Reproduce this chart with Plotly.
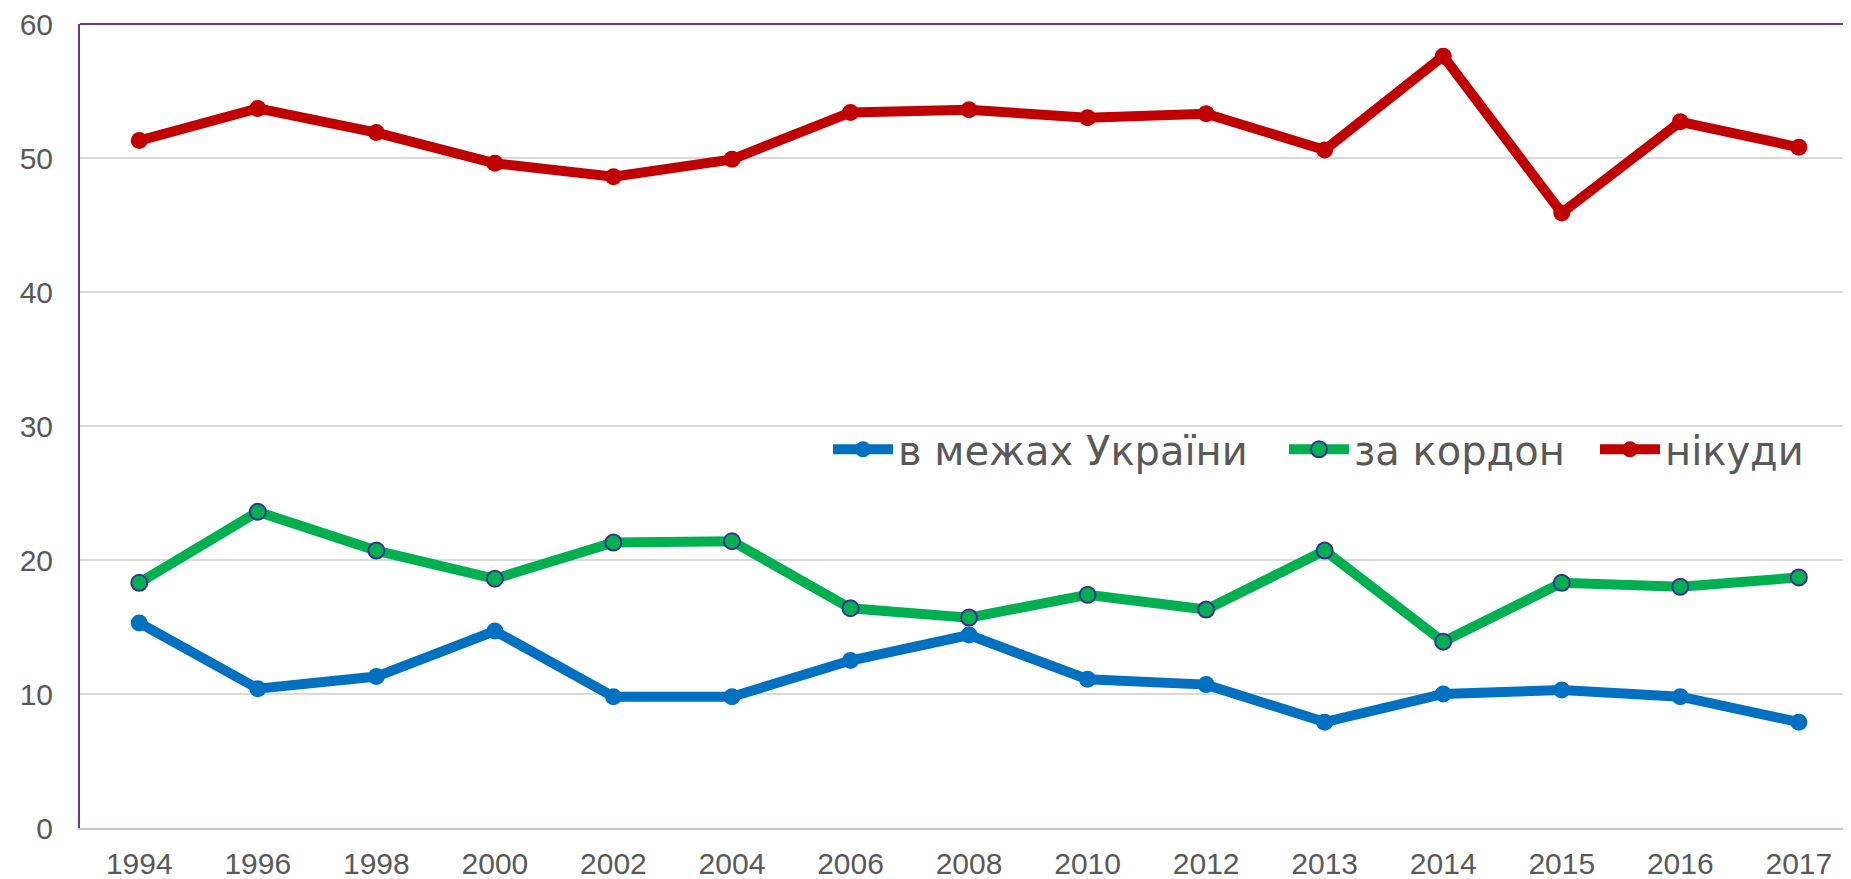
import plotly.graph_objects as go

years = ["1994", "1996", "1998", "2000", "2002", "2004", "2006", "2008", "2010",
         "2012", "2013", "2014", "2015", "2016", "2017"]
within_ukraine = [15.3, 10.4, 11.3, 14.7, 9.8, 9.8, 12.5, 14.4, 11.1, 10.7, 7.9, 10.0, 10.3, 9.8, 7.9]
abroad = [18.3, 23.6, 20.7, 18.6, 21.3, 21.4, 16.4, 15.7, 17.4, 16.3, 20.7, 13.9, 18.3, 18.0, 18.7]
nowhere = [51.3, 53.7, 51.9, 49.6, 48.6, 49.9, 53.4, 53.6, 53.0, 53.3, 50.6, 57.6, 45.9, 52.7, 50.8]

names = ["в межах України", "за кордон", "нікуди"]

fig = go.Figure()
fig.add_trace(go.Scatter(x=years, y=within_ukraine, name=names[0], mode="lines+markers",
                         line=dict(color="#0070C0", width=10),
                         marker=dict(color="#0070C0", size=17), legend="legend"))
fig.add_trace(go.Scatter(x=years, y=abroad, name=names[1], mode="lines+markers",
                         line=dict(color="#00B050", width=10),
                         marker=dict(color="#00B050", size=16, line=dict(color="#3A2F9A", width=2)),
                         legend="legend2"))
fig.add_trace(go.Scatter(x=years, y=nowhere, name=names[2], mode="lines+markers",
                         line=dict(color="#C00000", width=10),
                         marker=dict(color="#C00000", size=17), legend="legend3"))

PLOT_L, PLOT_W = 80, 1771  # page px


def leg(page_x):
    return dict(orientation="h", x=(page_x - PLOT_L) / PLOT_W, y=0.471,
                xanchor="left", yanchor="middle",
                font=dict(family="DejaVu Sans, Liberation Sans, sans-serif", size=40, color="#595959"),
                bgcolor="rgba(0,0,0,0)", itemwidth=60)


fig.update_layout(
    width=1843, height=871,
    margin=dict(l=72, r=0, t=16, b=51),
    paper_bgcolor="white", plot_bgcolor="white",
    font=dict(family="Liberation Sans, Arial, sans-serif", color="#595959", size=30),
    legend=leg(828), legend2=leg(1284), legend3=leg(1595),
    showlegend=True,
    shapes=[dict(type="line", xref="paper", yref="paper", x0=0, x1=1, y0=1, y1=1,
                 line=dict(color="#7030A0", width=2))],
)
fig.update_xaxes(type="category", range=[-0.5, 14.44], showgrid=False, automargin=False,
                 showline=True, linecolor="#CCC0DA", linewidth=2,
                 ticks="", ticklabelstandoff=8, tickfont=dict(size=30, color="#595959"))
fig.update_yaxes(range=[0, 60], dtick=10, showgrid=True, gridcolor="#D9D9D9", gridwidth=1.5,
                 showline=True, linecolor="#7030A0", linewidth=2, zeroline=False, automargin=False,
                 ticklabeloverflow="allow",
                 ticks="", ticklabelstandoff=19, tickfont=dict(size=30, color="#595959"))

fig.write_html("out.html")
